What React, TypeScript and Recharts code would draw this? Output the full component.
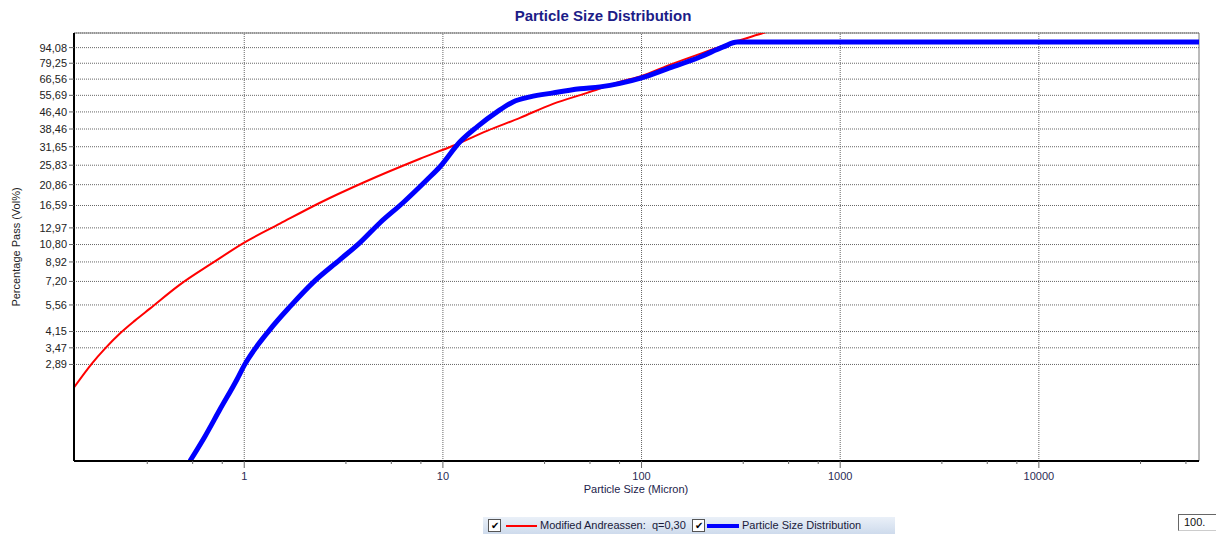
import {
  CartesianGrid,
  Line,
  LineChart,
  ReferenceArea,
  ReferenceLine,
  XAxis,
  YAxis,
} from "recharts";

// Modified Andreassen, q=0,30 (size in micron, % passing)
const andreassenSize = [
  0.139, 0.171, 0.199, 0.2366, 0.2816, 0.335, 0.4745, 0.696, 1, 1.512, 2.406,
  3.96, 7.67, 11.24, 16.68, 24.44, 35.85, 53.2, 77.9, 100, 134.4, 197, 302.7,
  409, 628,
];
const andreassenPass = [
  2.245, 2.92, 3.44, 4.06, 4.68, 5.34, 6.95, 8.85, 11.03, 13.58, 17.1, 21.3,
  27.73, 31.98, 37.7, 43.48, 50.7, 57.2, 64.6, 68.95, 76.97, 87.8, 101.2, 110.5,
  126.1,
];

// measured particle size distribution
const psdSize = [
  0.533, 0.634, 0.754, 0.919, 1, 1.347, 1.7, 2.218, 3.033, 3.825, 4.825, 6.297,
  8.317, 9.67, 12.19, 14.85, 18.73, 22.54, 27.46, 35.85, 49, 61.8, 77.9, 100,
  134.4, 197, 257.6, 302.7, 1000, 10000, 64000,
];
const psdPass = [
  1.0, 1.31, 1.76, 2.45, 2.86, 4.24, 5.46, 7.11, 9.15, 11.03, 13.73, 17.1,
  22.01, 25.39, 33.41, 39.38, 46.43, 51.8, 54.74, 57.2, 59.8, 61.1, 63.5, 67.45,
  74.5, 84.9, 94.8, 100, 100, 100, 100,
];

const yTicks = [
  2.89, 3.47, 4.15, 5.56, 7.2, 8.92, 10.8, 12.97, 16.59, 20.86, 25.83, 31.65,
  38.46, 46.4, 55.69, 66.56, 79.25, 94.08,
];
const xMajor = [1, 10, 100, 1000, 10000];
const xMinor = [
  0.325, 0.55, 0.775, 3.25, 5.5, 7.75, 32.5, 55, 77.5, 325, 550, 775, 3250, 5500,
  7750, 32500, 55000,
];

const xDomain = [0.139, 64000];
const yDomain = [1, 110.5];

const andreassen = andreassenSize.map((s, i) => ({ size: s, pass: andreassenPass[i] }));
const psd = psdSize.map((s, i) => ({ size: s, pass: psdPass[i] }));

const FONT = "'Liberation Sans', Arial, sans-serif";
const TICK_GAP = 11;

function XTick(props: any) {
  const { x, y, payload } = props;
  const major = xMajor.includes(payload.value);
  const axisY = y - TICK_GAP;
  return (
    <g>
      <line x1={x} x2={x} y1={axisY} y2={axisY + (major ? 7 : 3)} stroke="#666" />
      {major && (
        <text x={x} y={y} dy="0.71em" textAnchor="middle" fontSize={11} fill="#2b2b55" fontFamily={FONT}>
          {payload.value}
        </text>
      )}
    </g>
  );
}

function CheckBox({ left }: { left: number }) {
  return (
    <div
      style={{
        position: "absolute",
        left,
        top: 2,
        width: 11,
        height: 11,
        background: "#fff",
        border: "1px solid #555",
        fontSize: 10,
        lineHeight: "11px",
        textAlign: "center",
        color: "#000",
      }}
    >
      ✔
    </div>
  );
}

export default function App() {
  return (
    <div style={{ position: "absolute", left: 0, top: 0, width: 1216, height: 534, background: "#fff", fontFamily: FONT, overflow: "hidden" }}>
      <div style={{ position: "absolute", left: 0, top: 7, width: 1206, textAlign: "center", fontSize: 15, fontWeight: "bold", color: "#1c1c87" }}>
        Particle Size Distribution
      </div>
      <LineChart width={1216} height={534} margin={{ top: 33, right: 17, bottom: 0, left: 0 }}>
        <CartesianGrid vertical={false} stroke="#666" strokeDasharray="1 1" />
        <ReferenceArea x1={xDomain[0]} x2={xDomain[1]} y1={yDomain[0]} y2={yDomain[1]} fill="none" stroke="#777" strokeOpacity={1} fillOpacity={0} />
        {xMajor.map((v) => (
          <ReferenceLine key={v} x={v} stroke="#666" strokeDasharray="1 1" />
        ))}
        <XAxis
          type="number"
          dataKey="size"
          scale="log"
          domain={xDomain}
          allowDataOverflow
          ticks={[...xMajor, ...xMinor].sort((a, b) => a - b)}
          interval={0}
          height={73}
          tickSize={0}
          tickMargin={TICK_GAP}
          tickLine={false}
          tick={XTick}
          axisLine={{ stroke: "#000", strokeWidth: 2 }}
        />
        <YAxis
          type="number"
          dataKey="pass"
          scale="log"
          domain={yDomain}
          allowDataOverflow
          ticks={yTicks}
          interval={0}
          width={74}
          tickSize={5}
          tickMargin={2}
          tickLine={{ stroke: "#666" }}
          axisLine={{ stroke: "#000", strokeWidth: 2 }}
          tick={{ fontSize: 11, fill: "#222", fontFamily: FONT }}
          tickFormatter={(v: number) => v.toFixed(2).replace(".", ",")}
        />
        <Line
          data={andreassen}
          dataKey="pass"
          type="monotone"
          stroke="#ff0000"
          strokeWidth={2}
          dot={false}
          isAnimationActive={false}
        />
        <Line
          data={psd}
          dataKey="pass"
          type="monotone"
          stroke="#0000ff"
          strokeWidth={5}
          dot={false}
          isAnimationActive={false}
        />
      </LineChart>
      <div style={{ position: "absolute", left: 16, top: 247, width: 0, height: 0 }}>
        <div style={{ position: "absolute", left: 0, top: 0, transform: "translate(-50%, -50%) rotate(-90deg)", whiteSpace: "nowrap", fontSize: 11, color: "#222" }}>
          Percentage Pass (Vol%)
        </div>
      </div>
      <div style={{ position: "absolute", left: 436, top: 483, width: 400, textAlign: "center", fontSize: 11, color: "#22224a" }}>
        Particle Size (Micron)
      </div>
      <div
        style={{
          position: "absolute",
          left: 483,
          top: 517,
          width: 412,
          height: 20,
          background: "linear-gradient(#eaf0f8, #c9d7ea)",
          fontSize: 11,
          color: "#1a1a3a",
        }}
      >
        <CheckBox left={5} />
        <div style={{ position: "absolute", left: 23, top: 8, width: 31, height: 2, background: "#ff0000" }} />
        <div style={{ position: "absolute", left: 57, top: 2, whiteSpace: "pre" }}>Modified Andreassen:  q=0,30</div>
        <CheckBox left={209} />
        <div style={{ position: "absolute", left: 224, top: 7, width: 32, height: 4, background: "#0000ff" }} />
        <div style={{ position: "absolute", left: 259, top: 2, whiteSpace: "pre" }}>Particle Size Distribution</div>
      </div>
      <div
        style={{
          position: "absolute",
          left: 1178,
          top: 514,
          width: 44,
          height: 15,
          background: "#fff",
          borderTop: "1px solid #666",
          borderLeft: "1px solid #666",
          borderBottom: "1px solid #ccc",
          fontSize: 11,
          lineHeight: "15px",
          paddingLeft: 5,
          color: "#111",
        }}
      >
        100.
      </div>
    </div>
  );
}
